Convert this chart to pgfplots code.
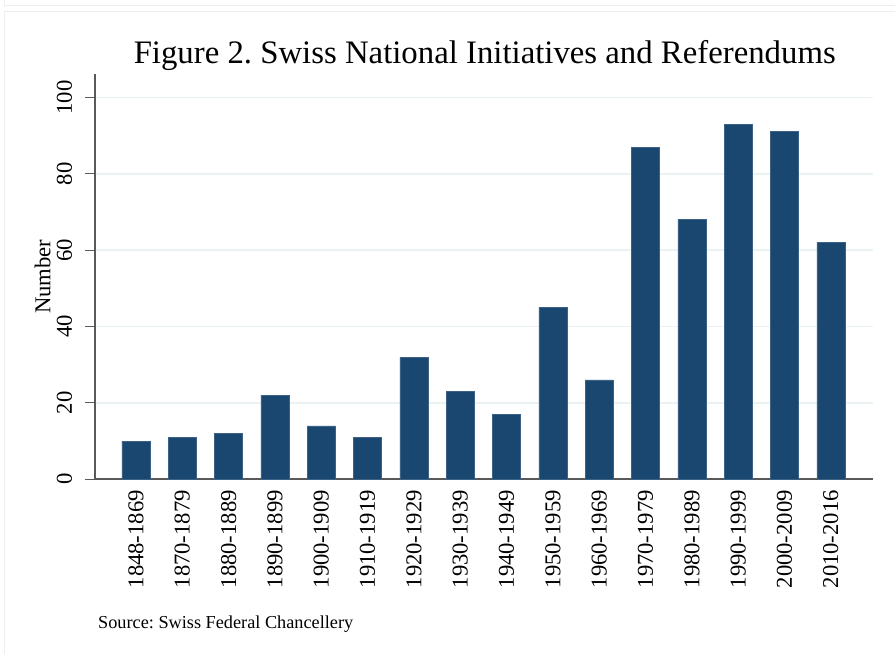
\documentclass[border=0pt]{standalone}
\usepackage{pgfplots}
\pgfplotsset{compat=1.18}
\usepackage{fontspec}
\setmainfont{Liberation Serif}
\frenchspacing
\definecolor{barc}{HTML}{1A476F}
\definecolor{gridc}{HTML}{EAF2F3}
\definecolor{framec}{HTML}{EEEEEE}

\pgfplotstableread{
x  n   label
0  10  1848-1869
1  11  1870-1879
2  12  1880-1889
3  22  1890-1899
4  14  1900-1909
5  11  1910-1919
6  32  1920-1929
7  23  1930-1939
8  17  1940-1949
9  45  1950-1959
10 26  1960-1969
11 87  1970-1979
12 68  1980-1989
13 93  1990-1999
14 91  2000-2009
15 62  2010-2016
}\votes

\begin{document}
\begin{tikzpicture}[x=0.75pt,y=-0.75pt]
% page size in pixels of the reference
\path (0,0) rectangle (895,654);
\draw[framec, line width=0.75pt] (5,0) -- (5,5) -- (895,5);
\draw[framec, line width=0.75pt] (5,654) -- (5,11) -- (895,11);

\begin{axis}[
    at={(71.25pt,-359.25pt)}, anchor=south west,
    scale only axis,
    width=583.5pt, height=303.75pt,
    xmin=-0.885, xmax=15.9,
    ymin=0, ymax=106,
    axis x line*=bottom, axis y line*=left,
    axis line style={black!65, line width=1.1pt},
    xtick=data,
    xticklabels from table={\votes}{label},
    xtick style={draw=none},
    xticklabel style={rotate=90, anchor=east, inner sep=0.5pt, font=\fontsize{17pt}{17pt}\selectfont},
    ytick={0,20,...,100},
    ytick align=outside,
    major tick length=7.5pt,
    ytick style={black!65, line width=0.9pt},
    yticklabel style={rotate=90, anchor=south, inner sep=9.4pt, font=\fontsize{17pt}{17pt}\selectfont},
    /pgf/number format/assume math mode=true,
    ymajorgrids,
    grid style={gridc, line width=1.2pt},
    ylabel={Number},
    ylabel style={font=\fontsize{17pt}{17pt}\selectfont, yshift=-8.25pt},
    ybar, bar width=21pt,
    clip=false,
]
\addplot[fill=barc, draw=barc!85!white, line width=0.4pt] table[x=x, y=n] {\votes};
\end{axis}

\node[anchor=base, font=\fontsize{24.6pt}{24.6pt}\selectfont] at (485,63)
    {Figure 2. Swiss National Initiatives and Referendums};
\node[anchor=base west, inner sep=0pt, font=\fontsize{13.7pt}{13.7pt}\selectfont] at (98,628)
    {Source: Swiss Federal Chancellery};
\end{tikzpicture}
\end{document}
